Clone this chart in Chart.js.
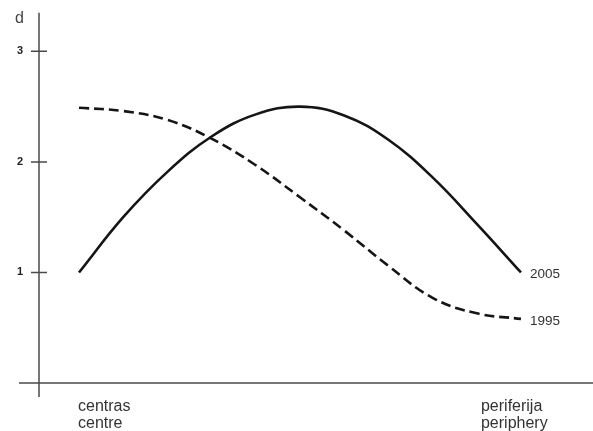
<!DOCTYPE html>
<html>
<head>
<meta charset="utf-8">
<script src="https://cdn.jsdelivr.net/npm/chart.js@4"></script>
<style>
  html, body { margin: 0; padding: 0; background: #fff; }
</style>
</head>
<body>
<canvas id="chart" width="593" height="431"></canvas>
<script>
// positions along the centre -> periphery axis
const xPos = [0, 1, 2, 3, 4, 5, 6, 7, 8, 9, 10];
const d2005 = [1.0, 1.5, 1.91, 2.23, 2.43, 2.5, 2.42, 2.2, 1.86, 1.44, 1.0];
const d1995 = [2.49, 2.46, 2.38, 2.21, 1.97, 1.68, 1.38, 1.06, 0.77, 0.63, 0.58];
const seriesNames = ["2005", "1995"];
const yTicks = [1, 2, 3];
const xLabels = [["centras", "centre"], ["periferija", "periphery"]];
const yTitle = "d";

const ctx = document.getElementById("chart").getContext("2d");

// axes with overhang, tick marks and the free text
const axesPlugin = {
  id: "axes",
  afterDraw(chart) {
    const c = chart.ctx;
    const area = chart.chartArea;
    const xs = chart.scales.x;
    const ys = chart.scales.y;
    const x0 = area.left;
    const y0 = ys.getPixelForValue(0);
    const yTop = ys.getPixelForValue(3.35);
    c.save();
    c.strokeStyle = "#4a4a4a";
    c.lineWidth = 1.5;
    c.beginPath();
    c.moveTo(x0, yTop);
    c.lineTo(x0, y0 + 14);
    c.moveTo(x0 - 20, y0);
    c.lineTo(area.right, y0);
    yTicks.forEach(v => {
      const y = ys.getPixelForValue(v);
      c.moveTo(x0 - 8, y);
      c.lineTo(x0 + 8, y);
    });
    c.stroke();

    c.fillStyle = "#444";
    c.font = "16px 'Liberation Sans', Arial, sans-serif";
    c.textBaseline = "alphabetic";
    c.textAlign = "left";
    c.fillText(yTitle, x0 - 24, yTop + 10);

    // category labels under the axis
    c.fillStyle = "#333";
    const first = xs.getPixelForValue(xPos[0]);
    const last = xs.getPixelForValue(xPos[xPos.length - 1]);
    [[first - 1, xLabels[0]], [last - 40, xLabels[1]]].forEach(([lx, lines]) => {
      lines.forEach((t, i) => c.fillText(t, lx, y0 + 28 + i * 17));
    });

    // series names at the line ends
    c.font = "13.5px 'Liberation Sans Narrow', 'Liberation Sans', Arial, sans-serif";
    c.textBaseline = "middle";
    c.fillStyle = "#333";
    chart.data.datasets.forEach((ds, i) => {
      const meta = chart.getDatasetMeta(i);
      const pt = meta.data[meta.data.length - 1];
      c.fillText(seriesNames[i], pt.x + 9, pt.y + 2);
    });
    c.restore();
  }
};

new Chart(ctx, {
  type: "line",
  data: {
    datasets: [
      {
        label: seriesNames[0],
        data: xPos.map((x, i) => ({ x: x, y: d2005[i] })),
        borderColor: "#151515",
        borderWidth: 2.6,
        pointRadius: 0,
        tension: 0.4,
        fill: false
      },
      {
        label: seriesNames[1],
        data: xPos.map((x, i) => ({ x: x, y: d1995[i] })),
        borderColor: "#151515",
        borderWidth: 2.6,
        borderDash: [10, 5],
        pointRadius: 0,
        tension: 0.4,
        fill: false
      }
    ]
  },
  options: {
    responsive: false,
    animation: false,
    devicePixelRatio: 1,
    layout: { padding: { top: 0, right: 0, bottom: 48, left: 0 } },
    plugins: {
      legend: { display: false },
      tooltip: { enabled: false }
    },
    scales: {
      x: {
        type: "linear",
        display: false,
        min: -0.905,
        max: 11.63
      },
      y: {
        min: 0,
        max: 3.26,
        afterFit: scale => { scale.width = 39; },
        afterBuildTicks: scale => {
          scale.ticks = yTicks.map(v => ({ value: v }));
        },
        grid: { display: false, drawTicks: false },
        border: { display: false },
        ticks: {
          padding: 16,
          color: "#222",
          font: { family: "'Liberation Sans', Arial, sans-serif", size: 11, weight: "bold" }
        }
      }
    }
  },
  plugins: [axesPlugin]
});
</script>
</body>
</html>
